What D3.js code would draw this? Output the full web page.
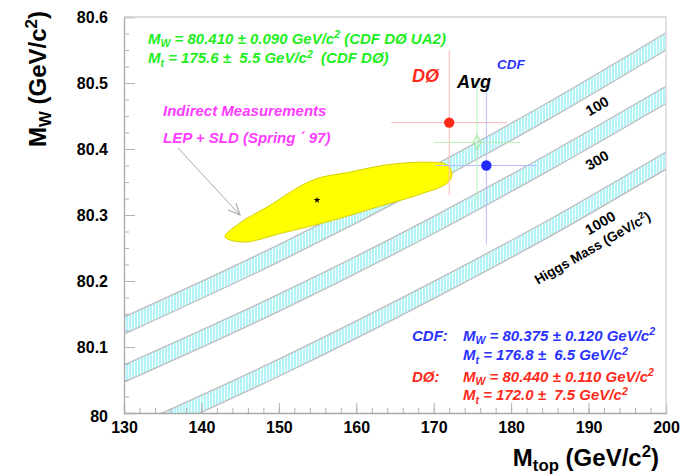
<!DOCTYPE html>
<html>
<head>
<meta charset="utf-8">
<title>MW vs Mtop</title>
<script src="https://d3js.org/d3.v7.min.js"></script>
<style>
    body, html { margin: 0; padding: 0; background: #fff; }
    svg { display: block; font-family: "Liberation Sans", Arial, Helvetica, sans-serif; }
    .tick text { font-size: 16px; font-weight: bold; fill: #000; }
    .ann { font-weight: bold; font-style: italic; white-space: pre; }
</style>
</head>
<body>
<script>
// ---- data ----
const experiments = ["DØ", "CDF", "Avg"];
const mtValues = [172.0, 176.8, 175.6];
const mtErrors = [7.5, 6.5, 5.5];
const mwValues = [80.440, 80.375, 80.410];
const mwErrors = [0.110, 0.120, 0.090];

// Higgs mass bands: upper edge of each band at these mtop values
const higgsMasses = [100, 300, 1000];
const bandMt = [130, 150, 170, 185, 200];
const bandMw100 = [80.1455, 80.255, 80.375, 80.472, 80.576];
const bandMw300 = [80.0727, 80.180, 80.298, 80.394, 80.495];
const bandMw1000 = [79.974, 80.0817, 80.1994, 80.2936, 80.3955];
const bandWidth = 0.026;

// indirect (LEP + SLD) contour
const indirectMt = [143.04, 144.98, 148.47, 154.41, 159.19, 163.97, 169.13, 171.72, 172.36, 171.72, 167.84, 162.67, 156.99, 150.53, 145.37];
const indirectMw = [80.267, 80.288, 80.312, 80.353, 80.365, 80.376, 80.380, 80.376, 80.361, 80.348, 80.330, 80.312, 80.292, 80.273, 80.259];
const indirectCenter = [154.93, 80.3227];

const xTicks = [130, 140, 150, 160, 170, 180, 190, 200];
const yTicks = [80, 80.1, 80.2, 80.3, 80.4, 80.5, 80.6];

// ---- layout ----
const width = 686, height = 476;
const plotLeft = 124, plotRight = 666, plotTop = 17, plotBottom = 413;

const x = d3.scaleLinear().domain([130, 200]).range([plotLeft, plotRight]);
const y = d3.scaleLinear().domain([80, 80.6]).range([plotBottom, plotTop]);

const svg = d3.select("body").append("svg")
    .attr("width", width)
    .attr("height", height);

const defs = svg.append("defs");
defs.append("clipPath").attr("id", "plotclip")
  .append("rect")
    .attr("x", plotLeft).attr("y", plotTop)
    .attr("width", plotRight - plotLeft).attr("height", plotBottom - plotTop);

const hatch = defs.append("pattern")
    .attr("id", "hatch")
    .attr("patternUnits", "userSpaceOnUse")
    .attr("width", 3).attr("height", 10);
hatch.append("rect").attr("width", 3).attr("height", 10).attr("fill", "#f2fdfd");
hatch.append("line")
    .attr("x1", 1).attr("x2", 1).attr("y1", 0).attr("y2", 10)
    .attr("stroke", "#93eef4").attr("stroke-width", 1.3);

defs.append("marker")
    .attr("id", "arrowhead")
    .attr("viewBox", "-1 -6 12 12")
    .attr("refX", 10).attr("refY", 0)
    .attr("orient", "auto")
    .attr("markerUnits", "userSpaceOnUse")
    .attr("markerWidth", 14).attr("markerHeight", 14)
  .append("path")
    .attr("d", "M0,-4.5 L10,0 L0,4.5")
    .attr("fill", "none")
    .attr("stroke", "#aaa")
    .attr("stroke-width", 1);

// ---- Higgs bands ----
const plot = svg.append("g").attr("clip-path", "url(#plotclip)");
const bandData = [bandMw100, bandMw300, bandMw1000];

const area = d3.area()
    .x(d => x(d[0]))
    .y0(d => y(d[1] - bandWidth))
    .y1(d => y(d[1]))
    .curve(d3.curveMonotoneX);
const edge = d3.line()
    .x(d => x(d[0]))
    .y(d => y(d[1]))
    .curve(d3.curveMonotoneX);

bandData.forEach(mws => {
    const pts = bandMt.map((m, i) => [m, mws[i]]);
    plot.append("path").attr("d", area(pts)).attr("fill", "url(#hatch)");
    plot.append("path").attr("d", edge(pts))
        .attr("fill", "none").attr("stroke", "#bdbdbd").attr("stroke-width", 1.3);
    plot.append("path").attr("d", edge(pts.map(p => [p[0], p[1] - bandWidth])))
        .attr("fill", "none").attr("stroke", "#bdbdbd").attr("stroke-width", 1.3);
});

// ---- indirect contour ----
const contour = d3.line()
    .x(d => x(d[0]))
    .y(d => y(d[1]))
    .curve(d3.curveCatmullRomClosed.alpha(0.5));
plot.append("path")
    .attr("d", contour(indirectMt.map((m, i) => [m, indirectMw[i]])))
    .attr("fill", "#ffff00")
    .attr("stroke", "#d6d000")
    .attr("stroke-width", 1);
plot.append("path")
    .attr("d", d3.symbol(d3.symbolStar, 14)())
    .attr("transform", `translate(${x(indirectCenter[0])},${y(indirectCenter[1])})`)
    .attr("fill", "#000");

// ---- measurements ----
const errColors = ["#ffb8b8", "#bcbcff", "#b8f0b8"];
const ptColors = ["#ff2a1a", "#1f2bff", "#a8e8a8"];

experiments.forEach((name, i) => {
    const g = plot.append("g");
    g.append("line")
        .attr("x1", x(mtValues[i] - mtErrors[i])).attr("x2", x(mtValues[i] + mtErrors[i]))
        .attr("y1", y(mwValues[i])).attr("y2", y(mwValues[i]))
        .attr("stroke", errColors[i]).attr("stroke-width", 1);
    g.append("line")
        .attr("x1", x(mtValues[i])).attr("x2", x(mtValues[i]))
        .attr("y1", y(mwValues[i] - mwErrors[i])).attr("y2", y(mwValues[i] + mwErrors[i]))
        .attr("stroke", errColors[i]).attr("stroke-width", 1);
    if (name === "Avg") {
        g.append("path")
            .attr("d", d3.symbol(d3.symbolDiamond, 60)())
            .attr("transform", `translate(${x(mtValues[i])},${y(mwValues[i])})`)
            .attr("fill", "none").attr("stroke", ptColors[i]).attr("stroke-width", 1.2);
    } else {
        g.append("circle")
            .attr("cx", x(mtValues[i])).attr("cy", y(mwValues[i]))
            .attr("r", 5.2).attr("fill", ptColors[i]);
    }
});

// arrow from the label to the contour
svg.append("line")
    .attr("x1", x(136.97)).attr("y1", y(80.4015))
    .attr("x2", x(144.98)).attr("y2", y(80.300))
    .attr("stroke", "#aaa").attr("stroke-width", 1)
    .attr("marker-end", "url(#arrowhead)");

// ---- axes ----
svg.append("g")
    .attr("transform", `translate(0,${plotBottom})`)
    .call(d3.axisBottom(x).tickValues(xTicks).tickSize(-10).tickPadding(9).tickFormat(d3.format("d")));
svg.append("g")
    .attr("transform", `translate(0,${plotBottom})`)
    .call(d3.axisBottom(x).tickValues(d3.range(130, 200, 2)).tickSize(-5).tickFormat(""))
    .call(g => g.select(".domain").remove());

const yAxis = svg.append("g")
    .attr("transform", `translate(${plotLeft},0)`)
    .call(d3.axisLeft(y).tickValues(yTicks).tickSize(-11).tickPadding(16).tickFormat(d => d === 80 ? "80" : d3.format(".1f")(d)));
svg.append("g")
    .attr("transform", `translate(${plotLeft},0)`)
    .call(d3.axisLeft(y).tickValues(d3.range(0, 24).map(k => 80 + k * 0.025)).tickSize(-5).tickFormat(""))
    .call(g => g.select(".domain").remove());

svg.selectAll(".domain").attr("stroke", "#a8a8a8").attr("stroke-width", 1.3);
svg.selectAll(".tick line").attr("stroke", "#b0b0b0").attr("stroke-width", 1);
yAxis.selectAll(".tick text").attr("dy", "0.36em");
yAxis.selectAll(".tick").filter(d => d === 80).select("text").attr("dy", "0.5em");

// top and right frame
svg.append("path")
    .attr("d", `M${plotLeft},${plotTop}H${plotRight}V${plotBottom}`)
    .attr("fill", "none").attr("stroke", "#d4d4d4").attr("stroke-width", 1.3);

// ---- text helper: _{sub} and ^{sup} ----
function rich(sel, str, fs) {
    const parts = str.split(/(_\{[^}]*\}|\^\{[^}]*\})/).filter(s => s.length);
    let shift = 0;
    parts.forEach(p => {
        let target = 0, txt = p, size = fs;
        if (p.startsWith("_{")) { target = 0.22 * fs; txt = p.slice(2, -1); size = fs * 0.7; }
        else if (p.startsWith("^{")) { target = -0.38 * fs; txt = p.slice(2, -1); size = fs * 0.7; }
        sel.append("tspan")
            .attr("dy", target - shift)
            .attr("font-size", size)
            .text(txt);
        shift = target;
    });
}

function label(mt, mw, str, fs, color, cls = "ann") {
    const t = svg.append("text")
        .attr("class", cls)
        .attr("x", x(mt)).attr("y", y(mw))
        .attr("font-size", fs)
        .attr("fill", color);
    rich(t, str, fs);
    return t;
}

const green = "#22ee22", magenta = "#ff3cff", red = "#ff2a1a", blue = "#2a32ff";
const annSize = 15;

label(133.1, 80.559, "M_{W} = 80.410 ± 0.090 GeV/c^{2} (CDF DØ UA2)", annSize, green);
label(133.1, 80.530, "M_{t} = 175.6 ±  5.5 GeV/c^{2}  (CDF DØ)", annSize, green);
label(135.04, 80.450, "Indirect Measurements", annSize, magenta);
label(135.04, 80.409, "LEP + SLD (Spring ´ 97)", annSize, magenta);

label(167.2, 80.5015, "DØ", 18, red);
label(173.0, 80.4924, "Avg", 18, "#000");
label(178.17, 80.521, "CDF", 13.5, blue);

label(167.2, 80.109, "CDF:", annSize, blue);
label(173.78, 80.109, "M_{W} = 80.375 ± 0.120 GeV/c^{2}", annSize, blue);
label(173.78, 80.080, "M_{t} = 176.8 ±  6.5 GeV/c^{2}", annSize, blue);
label(167.2, 80.047, "DØ:", annSize, red);
label(173.78, 80.047, "M_{W} = 80.440 ± 0.110 GeV/c^{2}", annSize, red);
label(173.78, 80.019, "M_{t} = 172.0 ±  7.5 GeV/c^{2}", annSize, red);

// band labels
const bandLabelMt = [191.1, 191.1, 191.5];
const bandLabelMw = [80.465, 80.383, 80.288];
higgsMasses.forEach((h, i) => {
    svg.append("text")
        .attr("transform", `translate(${x(bandLabelMt[i])},${y(bandLabelMw[i])}) rotate(-30)`)
        .attr("text-anchor", "middle")
        .attr("dy", "0.35em")
        .attr("font-size", 14.5)
        .attr("font-weight", "bold")
        .text(h);
});
const hm = svg.append("text")
    .attr("transform", `translate(${x(190.8)},${y(80.244)}) rotate(-30)`)
    .attr("text-anchor", "middle")
    .attr("dy", "0.35em")
    .attr("font-size", 13.5)
    .attr("font-weight", "bold")
    .style("white-space", "pre");
rich(hm, "Higgs Mass (GeV/c^{2})", 13.5);

// axis titles
const xt = svg.append("text")
    .attr("x", 659).attr("y", 466)
    .attr("text-anchor", "end")
    .attr("font-size", 24).attr("font-weight", "bold");
rich(xt, "M_{top} (GeV/c^{2})", 24);

const yt = svg.append("text")
    .attr("transform", "translate(46,79) rotate(-90)")
    .attr("text-anchor", "middle")
    .attr("font-size", 24).attr("font-weight", "bold");
rich(yt, "M_{W} (GeV/c^{2})", 24);
</script>
</body>
</html>
